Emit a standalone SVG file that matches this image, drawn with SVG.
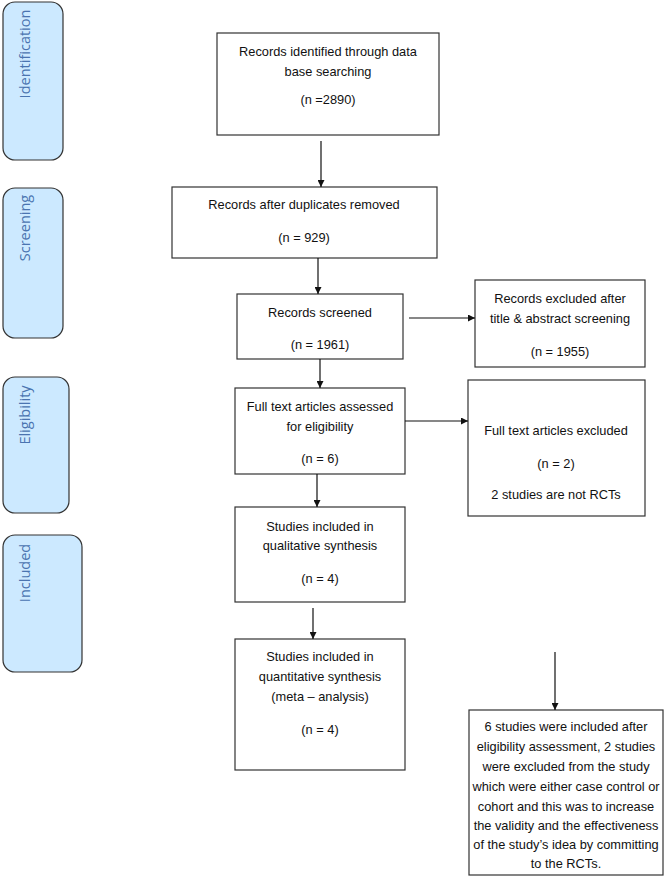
<svg xmlns="http://www.w3.org/2000/svg" width="669" height="880" viewBox="0 0 669 880">
<style>
.stage{fill:#cce9ff;stroke:#333;stroke-width:1.2}
.stl{font-family:"Open Sans","Liberation Sans",sans-serif;font-size:14.5px;fill:#4a74b0;text-anchor:middle}
.box{fill:#fff;stroke:#333;stroke-width:1.2}
.t{font-family:"Liberation Sans",Arial,sans-serif;font-size:12.8px;fill:#111;text-anchor:middle}
.c{stroke:#111;stroke-width:1.2;fill:none;marker-end:url(#ah)}
</style>
<defs>
<marker id="ah" viewBox="0 0 10 10" refX="10" refY="5" markerWidth="7" markerHeight="7" markerUnits="userSpaceOnUse" orient="auto"><path d="M0,0 L10,5 L0,10 z" fill="#111"/></marker>
</defs>
<rect width="669" height="880" fill="#fff"/>
<g id="stage-identification"><rect class="stage" x="3" y="2" width="60" height="158" rx="12"/><text class="stl" transform="translate(30,54) rotate(-90)">Identification</text></g>
<g id="stage-screening"><rect class="stage" x="3" y="188" width="60" height="150" rx="12"/><text class="stl" transform="translate(30,228) rotate(-90)">Screening</text></g>
<g id="stage-eligibility"><rect class="stage" x="3" y="377" width="66" height="136" rx="12"/><text class="stl" transform="translate(30,415) rotate(-90)">Eligibility</text></g>
<g id="stage-included"><rect class="stage" x="3" y="535" width="79" height="137" rx="12"/><text class="stl" transform="translate(30,573) rotate(-90)">Included</text></g>

<g id="n1"><rect class="box" x="217" y="33" width="222" height="102"/><text class="t" x="328" y="56">Records identified through data</text><text class="t" x="328" y="76">base searching</text><text class="t" x="328" y="104">(n =2890)</text></g>
<g id="n2"><rect class="box" x="172" y="187" width="265" height="71"/><text class="t" x="304" y="209">Records after duplicates removed</text><text class="t" x="304" y="242">(n = 929)</text></g>
<g id="n3"><rect class="box" x="237" y="294" width="166" height="65"/><text class="t" x="320" y="317">Records screened</text><text class="t" x="320" y="349">(n = 1961)</text></g>
<g id="n4"><rect class="box" x="475" y="280" width="170" height="87"/><text class="t" x="560" y="303">Records excluded after</text><text class="t" x="560" y="323">title &amp; abstract screening</text><text class="t" x="560" y="356">(n = 1955)</text></g>
<g id="n5"><rect class="box" x="235" y="388" width="170" height="86"/><text class="t" x="320" y="411">Full text articles assessed</text><text class="t" x="320" y="431">for eligibility</text><text class="t" x="320" y="463">(n = 6)</text></g>
<g id="n6"><rect class="box" x="468" y="380" width="177" height="136"/><text class="t" x="556" y="435">Full text articles excluded</text><text class="t" x="556" y="468">(n = 2)</text><text class="t" x="556" y="499">2 studies are not RCTs</text></g>
<g id="n7"><rect class="box" x="235" y="507" width="170" height="95"/><text class="t" x="320" y="531">Studies included in</text><text class="t" x="320" y="550">qualitative synthesis</text><text class="t" x="320" y="583">(n = 4)</text></g>
<g id="n8"><rect class="box" x="235" y="639" width="170" height="131"/><text class="t" x="320" y="661">Studies included in</text><text class="t" x="320" y="681">quantitative synthesis</text><text class="t" x="320" y="701">(meta – analysis)</text><text class="t" x="320" y="734">(n = 4)</text></g>
<g id="n9"><rect class="box" x="469" y="710" width="194" height="165" stroke-width="2.5"/>
<text class="t" x="566" y="731">6 studies were included after</text>
<text class="t" x="566" y="751">eligibility assessment, 2 studies</text>
<text class="t" x="566" y="771">were excluded from the study</text>
<text class="t" x="566" y="791">which were either case control or</text>
<text class="t" x="566" y="811">cohort and this was to increase</text>
<text class="t" x="566" y="830">the validity and the effectiveness</text>
<text class="t" x="566" y="849">of the study’s idea by committing</text>
<text class="t" x="566" y="868">to the RCTs.</text></g>

<g id="connectors">
<line class="c" x1="321" y1="141" x2="321" y2="187"/>
<line class="c" x1="318" y1="258" x2="318" y2="294"/>
<line class="c" x1="409" y1="318" x2="475" y2="318"/>
<line class="c" x1="320" y1="359" x2="320" y2="388"/>
<line class="c" x1="405" y1="421" x2="468" y2="421"/>
<line class="c" x1="317" y1="474" x2="317" y2="507"/>
<line class="c" x1="313" y1="608" x2="313" y2="639"/>
<line class="c" x1="555" y1="652" x2="555" y2="710"/>
</g>
</svg>
